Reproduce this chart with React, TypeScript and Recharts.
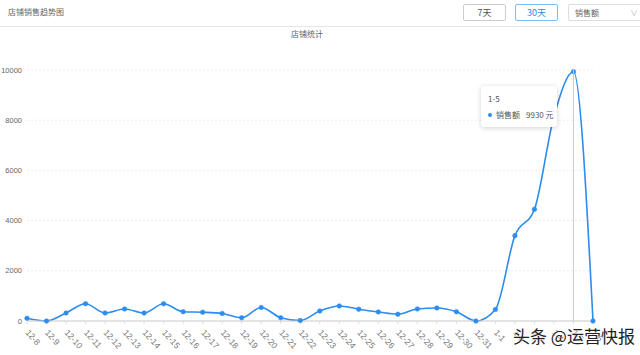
import React from 'react';
import { LineChart, Line, XAxis, YAxis, CartesianGrid, Tooltip } from 'recharts';

const categories = ['12-8','12-9','12-10','12-11','12-12','12-13','12-14','12-15','12-16','12-17','12-18','12-19','12-20','12-21','12-22','12-23','12-24','12-25','12-26','12-27','12-28','12-29','12-30','12-31','1-1','1-2','1-3','1-4','1-5','1-6'];
const salesValues = [110,0,320,690,320,480,320,690,370,350,300,130,540,130,20,400,600,470,360,270,480,520,370,0,460,3400,4450,8150,9930,0];
const yTicks = [0,2000,4000,6000,8000,10000];

const data = categories.map((c, i) => ({ date: c, sales: salesValues[i] }));

const FONT = '"Noto Sans CJK SC", "Noto Sans", sans-serif';
const NUMFONT = '"Liberation Sans", Arial, sans-serif';
const BLUE = '#2d8cf0';

const XTick = (props: any) => {
  const { x, y, payload } = props;
  const x0 = x - 2;
  const y0 = y + 7;
  return (
    <text x={x0} y={y0} transform={`rotate(48 ${x0} ${y0})`} textAnchor="start" fontSize={8.5} fill="#777" fontFamily={NUMFONT}>
      {payload.value}
    </text>
  );
};

const TipContent = (props: any) => {
  const { active, payload, label } = props;
  if (!active || !payload || !payload.length) return null;
  return (
    <div style={{ width: 76, height: 41, boxSizing: 'border-box', background: '#fff', borderRadius: 3, boxShadow: '0 1px 5px rgba(0,0,0,0.18)', padding: '8px 0 0 7px', fontFamily: FONT, fontSize: 8, color: '#555', lineHeight: '10px' }}>
      <div>{label}</div>
      <div style={{ marginTop: 6, display: 'flex', alignItems: 'center' }}>
        <span style={{ width: 4, height: 4, borderRadius: 2, background: BLUE, display: 'inline-block', marginRight: 4 }} />
        <span>销售额</span>
        <span style={{ marginLeft: 6 }}>{payload[0].value} 元</span>
      </div>
    </div>
  );
};

export default function App() {
  return (
    <div style={{ position: 'absolute', left: 0, top: 0, width: 640, height: 355, background: '#fff', overflow: 'hidden', fontFamily: FONT }}>
      <div style={{ position: 'absolute', left: 8, top: 6, fontSize: 8, color: '#666' }}>店铺销售趋势图</div>
      <div style={{ position: 'absolute', left: 0, top: 26, width: 640, height: 1, background: '#e6e6e6' }} />
      <div style={{ position: 'absolute', left: 463, top: 4, width: 43, height: 17, boxSizing: 'border-box', border: '1px solid #ccc', borderRadius: 2, fontSize: 9, color: '#555', textAlign: 'center', lineHeight: '15px' }}>7天</div>
      <div style={{ position: 'absolute', left: 515, top: 4, width: 43, height: 17, boxSizing: 'border-box', border: '1px solid #7fbcf5', borderRadius: 2, fontSize: 9, color: BLUE, textAlign: 'center', lineHeight: '15px' }}>30天</div>
      <div style={{ position: 'absolute', left: 568, top: 4, width: 80, height: 17, boxSizing: 'border-box', border: '1px solid #ddd', borderRadius: 2, fontSize: 8, color: '#666', lineHeight: '15px', paddingLeft: 6 }}>销售额<span style={{ position: 'absolute', left: 61, top: 0, color: '#bbb', fontSize: 8 }}>∨</span></div>
      <div style={{ position: 'absolute', left: 0, top: 28, width: 614, textAlign: 'center', fontSize: 8, color: '#666' }}>店铺统计</div>
      <div style={{ position: 'absolute', left: 0, top: 0 }}>
        <LineChart width={640} height={355} data={data} margin={{ top: 70, right: 47, bottom: 0, left: 0 }}>
          <CartesianGrid vertical={false} stroke="#eeeeee" strokeDasharray="2 2" />
          <XAxis dataKey="date" interval={0} tick={<XTick />} tickLine={{ stroke: '#ddd' }} tickSize={3} axisLine={{ stroke: '#ccc' }} height={34} />
          <YAxis domain={[0, 10000]} ticks={yTicks} width={27} axisLine={false} tickLine={false} tickSize={0} tick={{ fontSize: 7.5, fill: '#666', fontFamily: NUMFONT }} tickMargin={5} />
          <Tooltip defaultIndex={28} active={true} position={{ x: 481, y: 86 }} content={<TipContent />} cursor={{ stroke: '#ccc', strokeWidth: 1 }} isAnimationActive={false} />
          <Line type="monotone" dataKey="sales" stroke={BLUE} strokeWidth={1.6} dot={{ r: 2.3, fill: BLUE, stroke: BLUE, strokeWidth: 0.5 }} activeDot={false} isAnimationActive={false} />
        </LineChart>
      </div>
      <div style={{ position: 'absolute', left: 513, top: 323, fontSize: 17, color: '#222', fontFamily: FONT, textShadow: '0 0 2px #fff, 0 0 2px #fff', whiteSpace: 'nowrap' }}>头条 @运营快报</div>
    </div>
  );
}
